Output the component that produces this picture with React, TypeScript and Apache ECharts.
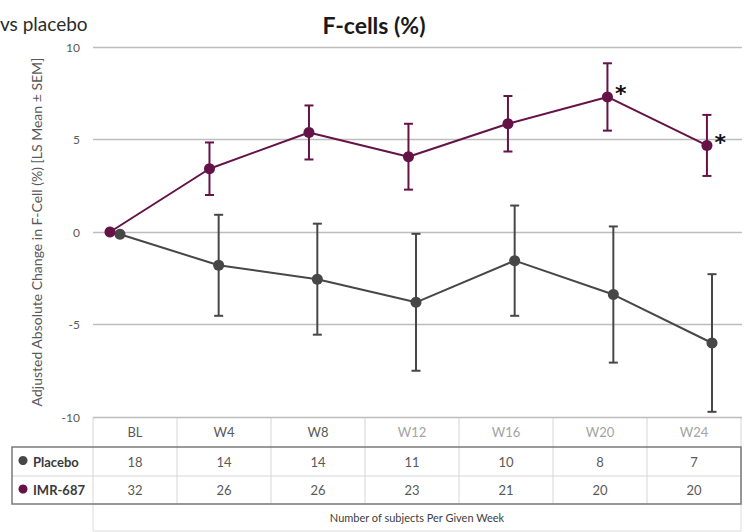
import React, { useEffect, useRef } from "react";
import * as echarts from "echarts";

const categories = ["BL", "W4", "W8", "W12", "W16", "W20", "W24"];
const weeks = [0, 4, 8, 12, 16, 20, 24];
const imrMean = [0, 3.42, 5.38, 4.07, 5.85, 7.3, 4.68];
const imrSem = [0, 1.42, 1.46, 1.78, 1.5, 1.82, 1.65];
const imrSignificant = [false, false, false, false, false, true, true];
const placeboMean = [-0.12, -1.8, -2.55, -3.8, -1.55, -3.38, -6.0];
const placeboSem = [0, 2.73, 3.0, 3.7, 2.98, 3.68, 3.72];
const placeboN = [18, 14, 14, 11, 10, 8, 7];
const imrN = [32, 26, 26, 23, 21, 20, 20];
const yTicks = { min: -10, max: 10, interval: 5 };

const PURPLE = "#651347";
const GRAY = "#474747";
const FONT = "Lato, 'Open Sans', sans-serif";

function errorBarSeries(name: string, means: number[], sems: number[], color: string, axis: number) {
  const data = weeks
    .map((w, i) => [w, means[i] - sems[i], means[i] + sems[i]])
    .filter((_, i) => sems[i] > 0);
  return {
    type: "custom",
    name: name + "-err",
    xAxisIndex: axis,
    yAxisIndex: 0,
    z: 1,
    silent: true,
    encode: { x: 0, y: [1, 2] },
    data,
    renderItem: (params: any, api: any) => {
      const x = api.value(0);
      const lo = api.coord([x, api.value(1)]);
      const hi = api.coord([x, api.value(2)]);
      const cap = 4.5;
      const style = { stroke: color, lineWidth: 2 };
      return {
        type: "group",
        children: [
          { type: "line", shape: { x1: lo[0], y1: lo[1], x2: hi[0], y2: hi[1] }, style },
          { type: "line", shape: { x1: lo[0] - cap, y1: lo[1], x2: lo[0] + cap, y2: lo[1] }, style },
          { type: "line", shape: { x1: hi[0] - cap, y1: hi[1], x2: hi[0] + cap, y2: hi[1] }, style },
        ],
      };
    },
  };
}

function buildTable() {
  const left0 = 93;
  const colW = [84, 94, 94, 94, 94, 94, 94];
  const xs: number[] = [left0];
  colW.forEach((w) => xs.push(xs[xs.length - 1] + w));
  const right = xs[xs.length - 1];
  const yHead = 417, yRow1 = 447, yRow2 = 476, yRow3 = 504, yFoot = 531;
  const labelLeft = 12;
  const light = { stroke: "#d6d6d6", lineWidth: 1 };
  const els: any[] = [];
  xs.forEach((x) => {
    els.push({ type: "line", shape: { x1: x, y1: yHead, x2: x, y2: yRow1 }, style: light });
    els.push({ type: "line", shape: { x1: x, y1: yRow1, x2: x, y2: yRow3 }, style: light });
  });
  els.push({ type: "line", shape: { x1: labelLeft, y1: yRow2, x2: right, y2: yRow2 }, style: light });
  els.push({ type: "rect", shape: { x: left0, y: yRow3, width: right - left0, height: yFoot - yRow3 }, style: { fill: "none", stroke: "#dcdcdc", lineWidth: 1 } });
  els.push({ type: "rect", shape: { x: labelLeft, y: yRow1, width: right - labelLeft, height: yRow3 - yRow1 }, style: { fill: "none", stroke: "#7a7a7a", lineWidth: 1.5 } });
  categories.forEach((c, i) => {
    const cx = (xs[i] + xs[i + 1]) / 2;
    els.push({ type: "text", x: cx, y: (yHead + yRow1) / 2, style: { text: c, fill: i < 3 ? "#595959" : "#a3a3a3", font: `13px ${FONT}`, align: "center", verticalAlign: "middle" } });
    els.push({ type: "text", x: cx, y: (yRow1 + yRow2) / 2, style: { text: String(placeboN[i]), fill: "#595959", font: `13px ${FONT}`, align: "center", verticalAlign: "middle" } });
    els.push({ type: "text", x: cx, y: (yRow2 + yRow3) / 2, style: { text: String(imrN[i]), fill: "#595959", font: `13px ${FONT}`, align: "center", verticalAlign: "middle" } });
  });
  const rows = [
    { name: "Placebo", color: GRAY, y: (yRow1 + yRow2) / 2 },
    { name: "IMR-687", color: PURPLE, y: (yRow2 + yRow3) / 2 },
  ];
  rows.forEach((r) => {
    els.push({ type: "circle", shape: { cx: 23, cy: r.y - 1, r: 4.5 }, style: { fill: r.color } });
    els.push({ type: "text", x: 33, y: r.y, style: { text: r.name, fill: "#3a3a3a", font: `bold 13px ${FONT}`, align: "left", verticalAlign: "middle" } });
  });
  els.push({ type: "text", x: (left0 + right) / 2, y: (yRow3 + yFoot) / 2, style: { text: "Number of subjects Per Given Week", fill: "#404040", font: `11px ${FONT}`, align: "center", verticalAlign: "middle" } });
  els.push({ type: "text", x: 0, y: 23, style: { text: "vs placebo", fill: "#2b2b2b", font: `19px ${FONT}`, align: "left", verticalAlign: "middle" } });
  return els;
}

export default function App() {
  const ref = useRef<HTMLDivElement>(null);
  useEffect(() => {
    document.body.style.margin = "0";
    const chart = echarts.init(ref.current!, undefined, { renderer: "svg" });
    const imrData = weeks.map((w, i) =>
      imrSignificant[i]
        ? { value: [w, imrMean[i]], label: { show: true, formatter: "*", position: "right", distance: 2, offset: [0, -3], fontSize: 22, fontWeight: "bold", color: "#111", fontFamily: "'DejaVu Sans', sans-serif" } }
        : { value: [w, imrMean[i]] }
    );
    chart.setOption({
      animation: false,
      title: {
        text: "F-cells (%)",
        left: "center",
        top: 8,
        textStyle: { fontFamily: FONT, fontSize: 23, fontWeight: "bold", color: "#1a1a1a" },
      },
      grid: { left: 93, right: 6, top: 47, bottom: 115 },
      xAxis: [
        { type: "value", min: -0.683, max: 25.41, show: false },
        { type: "value", min: -1.094, max: 25.216, show: false },
      ],
      yAxis: {
        type: "value",
        min: yTicks.min,
        max: yTicks.max,
        interval: yTicks.interval,
        name: "Adjusted Absolute Change in F-Cell (%) [LS Mean ± SEM]",
        nameLocation: "middle",
        nameRotate: 90,
        nameGap: 50,
        nameTextStyle: { color: "#595959", fontSize: 14, fontFamily: FONT },
        axisLine: { show: false },
        axisTick: { show: false },
        axisLabel: { color: "#595959", fontSize: 12, margin: 13, fontFamily: FONT },
        splitLine: { lineStyle: { color: "#bdbdbd", width: 1.3 } },
      },
      graphic: buildTable(),
      series: [
        errorBarSeries("Placebo", placeboMean, placeboSem, GRAY, 1),
        errorBarSeries("IMR-687", imrMean, imrSem, PURPLE, 0),
        {
          type: "line",
          name: "Placebo",
          xAxisIndex: 1,
          z: 3,
          data: weeks.map((w, i) => [w, placeboMean[i]]),
          symbol: "circle",
          symbolSize: 11,
          itemStyle: { color: GRAY },
          lineStyle: { color: GRAY, width: 2 },
        },
        {
          type: "line",
          name: "IMR-687",
          xAxisIndex: 0,
          z: 4,
          data: imrData,
          symbol: "circle",
          symbolSize: 11,
          itemStyle: { color: PURPLE },
          lineStyle: { color: PURPLE, width: 2 },
        },
      ],
    });
    return () => chart.dispose();
  }, []);
  return <div ref={ref} style={{ width: 748, height: 532 }} />;
}
